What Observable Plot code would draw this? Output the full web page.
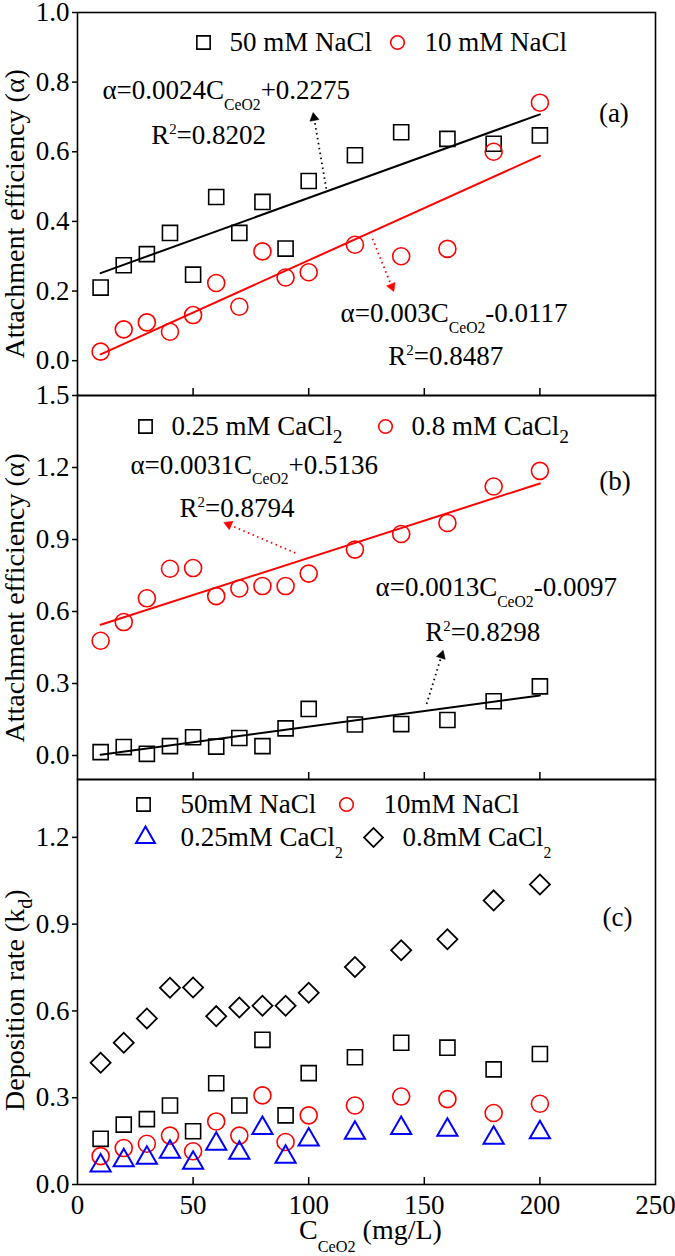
<!DOCTYPE html>
<html><head><meta charset="utf-8">
<script src="https://cdn.jsdelivr.net/npm/d3@7"></script>
<script src="https://cdn.jsdelivr.net/npm/@observablehq/plot@0.6"></script>
<style>
body{margin:0;background:#fff;}
#chart svg{display:block;overflow:visible;}
</style></head><body><div id="chart"></div>
<script>
// ---------- data ----------
const conc = [10,20,30,40,50,60,70,80,90,100,120,140,160,180,200];
// panel (a): attachment efficiency, NaCl
const alphaNaCl50 = [0.21,0.274,0.306,0.367,0.247,0.47,0.367,0.456,0.322,0.516,0.59,0.656,0.637,0.623,0.647];
const alphaNaCl10 = [0.026,0.09,0.11,0.083,0.131,0.223,0.155,0.314,0.239,0.254,0.333,0.30,0.321,0.60,0.741];
// panel (b): attachment efficiency, CaCl2
const alphaCaCl025 = [0.014,0.035,0.007,0.039,0.076,0.037,0.073,0.039,0.113,0.194,0.129,0.131,0.148,0.226,0.288];
const alphaCaCl08 = [0.478,0.556,0.655,0.778,0.781,0.664,0.696,0.706,0.706,0.758,0.858,0.923,0.969,1.121,1.186];
// panel (c): deposition rate
const kdNaCl50 = [0.158,0.207,0.226,0.273,0.184,0.350,0.273,0.50,0.239,0.385,0.44,0.49,0.473,0.398,0.451];
const kdNaCl10 = [0.098,0.126,0.141,0.169,0.115,0.218,0.169,0.308,0.147,0.239,0.273,0.304,0.295,0.247,0.279];
const kdCaCl025 = [0.065,0.083,0.092,0.113,0.075,0.14,0.109,0.195,0.095,0.155,0.178,0.195,0.189,0.161,0.18];
const kdCaCl08 = [0.421,0.49,0.574,0.68,0.681,0.582,0.612,0.618,0.618,0.663,0.752,0.81,0.848,0.982,1.037];
// linear fits [slope, intercept] over the fitted range
const fitRange = [10, 200];
const fitNaCl50 = [0.0024, 0.2275];
const fitNaCl10 = [0.003, -0.0117];
const fitCaCl08 = [0.0031, 0.5136];
const fitCaCl025 = [0.0013, -0.0097];
// labels
const eqNaCl50 = ["α=0.0024C_{CeO2}+0.2275", "R^{2}=0.8202"];
const eqNaCl10 = ["α=0.003C_{CeO2}-0.0117", "R^{2}=0.8487"];
const eqCaCl08 = ["α=0.0031C_{CeO2}+0.5136", "R^{2}=0.8794"];
const eqCaCl025 = ["α=0.0013C_{CeO2}-0.0097", "R^{2}=0.8298"];
const legendA = ["50 mM NaCl", "10 mM NaCl"];
const legendB = ["0.25 mM CaCl_{2}", "0.8 mM CaCl_{2}"];
const legendC = ["50mM NaCl", "10mM NaCl", "0.25mM CaCl_!{2}", "0.8mM CaCl_!{2}"];
const panelTags = ["(a)", "(b)", "(c)"];
const yTitleAB = "Attachment efficiency (α)";
const yTitleC = "Deposition rate (k_{d})";
const xTitle = "C_!{CeO2} (mg/L)";
const ticksX = [0,50,100,150,200,250];
const ticksXInner = [50,100,150,200];
const ticksA = [0,0.2,0.4,0.6,0.8,1.0];
const ticksB = [0,0.3,0.6,0.9,1.2,1.5];
const ticksC = [0,0.3,0.6,0.9,1.2];

// ---------- style ----------
const FONT = "'Liberation Serif', 'Times New Roman', serif";
const W = 675, ML = 77, MR = 20;
const FS = 27;
const RED = "#ff0000", BLUE = "#0000ff", BLACK = "#000";
const xDom = [0, 250];
const sx = (W - ML - MR) / (xDom[1] - xDom[0]);

const pts = (ys) => conc.map((c, i) => ({x: c, y: ys[i]}));
const fitPts = (f) => fitRange.map(c => ({x: c, y: f[0] * c + f[1]}));

function arrow(x1, y1, x2, y2, color, sy) {
  const vx = (x2 - x1) * sx, vy = -(y2 - y1) * sy;
  const L = Math.hypot(vx, vy);
  const ang = Math.atan2(vx, -vy) * 180 / Math.PI;
  const k = 1 - 4 / L;
  const hx = x1 + (x2 - x1) * k, hy = y1 + (y2 - y1) * k;
  return [
    Plot.link([0], {x1, y1, x2: hx, y2: hy, stroke: color, strokeWidth: 1.8, strokeDasharray: "1.5,3.5"}),
    Plot.dot([0], {x: hx, y: hy, symbol: "triangle", r: 3.4, rotate: ang, fill: color, stroke: color, strokeWidth: 0.5})
  ];
}

function panel({height, mt, mb, ydom, yticks, marks, showX}) {
  const sy = (height - mt - mb) / (ydom[1] - ydom[0]);
  const tickLen = 7 / sy;
  return Plot.plot({
    width: W, height,
    marginLeft: ML, marginRight: MR, marginTop: mt, marginBottom: mb,
    style: {fontFamily: FONT, fontSize: FS + "px", color: "#000", background: "transparent", overflow: "visible"},
    x: {domain: xDom, axis: null},
    y: {domain: ydom, axis: null},
    marks: [
      Plot.frame({stroke: BLACK, strokeWidth: 1.6}),
      Plot.axisY(yticks, {tickSize: 5, tickPadding: 3, tickFormat: d3.format(".1f"), fontSize: FS, strokeWidth: 1.5, label: null}),
      Plot.ruleX(ticksXInner, {y1: ydom[0], y2: ydom[0] + tickLen, stroke: BLACK, strokeWidth: 1.5}),
      ...(showX ? [Plot.axisX(ticksX, {tickSize: 0, tickPadding: 10, tickFormat: d => d, fontSize: FS, label: null})] : []),
      ...marks(sy)
    ]
  });
}

const sq = {symbol: "square", r: 8.5, stroke: BLACK, fill: "none", strokeWidth: 1.6};
const ci = {symbol: "circle", r: 8.5, stroke: RED, fill: "none", strokeWidth: 1.6};
const tri = {symbol: "triangle", r: 7.5, stroke: BLUE, fill: "none", strokeWidth: 2};
const dia = {symbol: "square", r: 8, rotate: 45, stroke: BLACK, fill: "none", strokeWidth: 1.8};
const lsq = {...sq, r: 7.5}, lci = {...ci, r: 6.8}, ltri = {...tri, r: 7}, ldia = {...dia, r: 7.5};
const txt = (s, o) => Plot.text([s], {text: d => d, fontSize: FS, fill: BLACK, lineAnchor: "middle", ...o});
const leg = (s, dx, dy) => txt(s, {frameAnchor: "top-left", dx, dy, textAnchor: "start"});
const legDot = (sym, dx, dy) => Plot.dot([0], {frameAnchor: "top-left", dx, dy, ...sym});
const yTitle = (s, y) => txt(s, {frameAnchor: "left", y, dx: -62, rotate: -90, textAnchor: "middle", fontSize: 28});

// panel (a)
const pa = panel({
  height: 395, mt: 12, mb: 0, ydom: [-0.1, 1.0], yticks: ticksA,
  marks: (sy) => [
    Plot.line(fitPts(fitNaCl50), {x: "x", y: "y", stroke: BLACK, strokeWidth: 2}),
    Plot.line(fitPts(fitNaCl10), {x: "x", y: "y", stroke: RED, strokeWidth: 2}),
    Plot.dot(pts(alphaNaCl50), {x: "x", y: "y", ...sq}),
    Plot.dot(pts(alphaNaCl10), {x: "x", y: "y", ...ci}),
    ...arrow(107.6, 0.494, 102, 0.709, BLACK, sy),
    ...arrow(127.6, 0.35, 136.6, 0.202, RED, sy),
    txt(eqNaCl50[0], {x: 10.8, y: 0.776, textAnchor: "start"}),
    txt(eqNaCl50[1], {x: 56.7, y: 0.647}),
    txt(eqNaCl10[0], {x: 113.8, y: 0.136, textAnchor: "start"}),
    txt(eqNaCl10[1], {x: 159.3, y: 0.011}),
    txt(panelTags[0], {x: 232, y: 0.709}),
    legDot(lsq, 126, 30), leg(legendA[0], 152, 30),
    legDot(lci, 320, 30), leg(legendA[1], 347, 30),
    yTitle(yTitleAB, 0.422)
  ]
});

// panel (b)
const pb = panel({
  height: 384, mt: 0, mb: 0, ydom: [-0.1, 1.5], yticks: ticksB,
  marks: (sy) => [
    Plot.line(fitPts(fitCaCl025), {x: "x", y: "y", stroke: BLACK, strokeWidth: 2}),
    Plot.line(fitPts(fitCaCl08), {x: "x", y: "y", stroke: RED, strokeWidth: 2}),
    Plot.dot(pts(alphaCaCl025), {x: "x", y: "y", ...sq}),
    Plot.dot(pts(alphaCaCl08), {x: "x", y: "y", ...ci}),
    ...arrow(94.2, 0.844, 63.8, 0.969, RED, sy),
    ...arrow(151, 0.2145, 158, 0.433, BLACK, sy),
    txt(eqCaCl08[0], {x: 22.9, y: 1.211, textAnchor: "start"}),
    txt(eqCaCl08[1], {x: 69, y: 1.028}),
    txt(eqCaCl025[0], {x: 128.9, y: 0.699, textAnchor: "start"}),
    txt(eqCaCl025[1], {x: 175.3, y: 0.512}),
    txt(panelTags[1], {x: 232.5, y: 1.142}),
    legDot(lsq, 68, 31), leg(legendB[0], 94, 31),
    legDot(lci, 308, 31), leg(legendB[1], 334, 31),
    yTitle(yTitleAB, 0.657)
  ]
});

// panel (c)
const pc = panel({
  height: 477, mt: 0, mb: 72, ydom: [0, 1.4], yticks: ticksC, showX: true,
  marks: (sy) => [
    Plot.dot(pts(kdCaCl08), {x: "x", y: "y", ...dia}),
    Plot.dot(pts(kdNaCl50), {x: "x", y: "y", ...sq}),
    Plot.dot(pts(kdNaCl10), {x: "x", y: "y", ...ci}),
    Plot.dot(pts(kdCaCl025), {x: "x", y: "y", ...tri}),
    txt(panelTags[2], {x: 233.6, y: 0.924}),
    legDot(lsq, 66, 25), leg(legendC[0], 103, 25),
    legDot(lci, 269, 25), leg(legendC[1], 306, 25),
    legDot(ltri, 68, 58), leg(legendC[2], 103, 58),
    legDot(ldia, 296, 58), leg(legendC[3], 325, 58),
    yTitle(yTitleC, 0.637),
    txt(xTitle, {frameAnchor: "bottom", x: 126.7, dy: 46, fontSize: 28})
  ]
});

const root = document.getElementById("chart");
[pa, pb, pc].forEach(p => root.appendChild(p));

// rich text: _{sub}, _!{deep sub}, ^{sup}
function rich(svg) {
  d3.select(svg).selectAll("text").each(function () {
    const s = this.textContent;
    if (!/[_^]!?\{/.test(s)) return;
    const F = parseFloat(getComputedStyle(this).fontSize) || FS;
    const parts = [];
    const re = /([_^])(!?)\{([^}]*)\}/g;
    let last = 0, m;
    while ((m = re.exec(s))) {
      if (m.index > last) parts.push({t: s.slice(last, m.index), k: "n"});
      parts.push({t: m[3], k: m[1] === "_" ? (m[2] ? "deep" : "sub") : "sup"});
      last = re.lastIndex;
    }
    if (last < s.length) parts.push({t: s.slice(last), k: "n"});
    while (this.firstChild) this.removeChild(this.firstChild);
    let shift = 0;
    for (const p of parts) {
      const ts = document.createElementNS("http://www.w3.org/2000/svg", "tspan");
      ts.textContent = p.t;
      let target = 0, size = F;
      if (p.k === "sub") {
        const long = p.t.length > 1;
        size = F * (long ? 0.58 : 0.72);
        target = F * (long ? 0.4 : 0.28);
      } else if (p.k === "deep") {
        size = F * 0.58;
        target = F * 0.45;
      } else if (p.k === "sup") {
        size = F * 0.55;
        target = -F * 0.38;
      }
      ts.setAttribute("font-size", size);
      const dy = target - shift;
      if (dy) ts.setAttribute("dy", dy);
      shift = target;
      this.appendChild(ts);
    }
  });
}
[pa, pb, pc].forEach(rich);
</script></body></html>
